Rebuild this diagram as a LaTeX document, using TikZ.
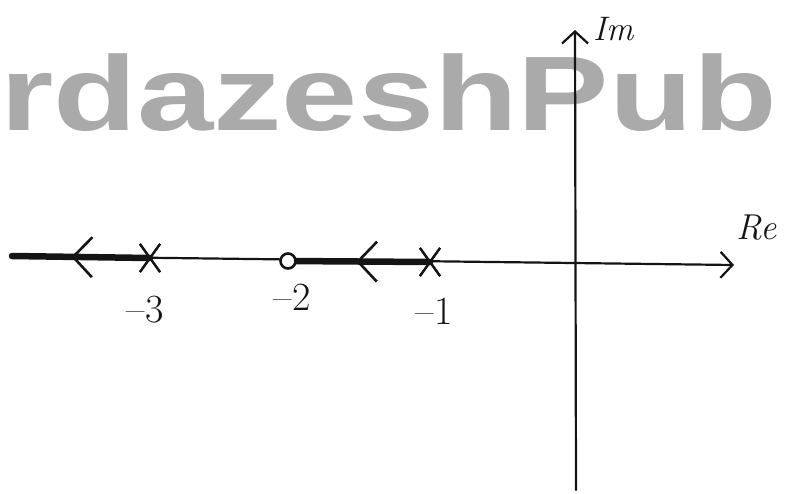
\documentclass[tikz,border=0pt]{standalone}
\usepackage{fontspec}
\usepackage{graphicx}
\usetikzlibrary{arrows.meta,shapes.misc,decorations.markings}
\newfontfamily\wmfont{Liberation Sans}
\definecolor{RLink}{RGB}{20,20,20}
\definecolor{RLwater}{RGB}{170,170,170}
\tikzset{
  axis/.style={line width=2.2pt,draw=RLink,line cap=round,
               -{Straight Barb[length=12pt,width=26pt,line width=2.2pt]}},
  locus/.style={line width=6.5pt,draw=RLink,line cap=round,postaction={decorate},
                decoration={markings,mark=at position #1 with
                  {\arrow[line width=2.6pt]{Straight Barb[length=19pt,width=40pt]}}}},
  pole/.style={cross out,draw=RLink,line width=2.2pt,minimum width=18pt,
               minimum height=26pt,inner sep=0pt},
  zero/.style={circle,draw=RLink,line width=2.6pt,minimum size=15pt,inner sep=0pt,fill=white},
  lbl/.style={font=\fontsize{40}{40}\selectfont,text=RLink},
  axlbl/.style={font=\fontsize{34}{34}\selectfont\itshape,text=RLink,inner sep=0pt},
  water/.style={font=\wmfont\bfseries\fontsize{100}{100}\selectfont,text=RLwater,
                inner sep=0pt,anchor=base west}
}
\begin{document}
\begin{tikzpicture}[x=1pt,y=-1pt]
  \useasboundingbox (0,0) rectangle (786,493);
  \clip (0,0) rectangle (786,493);
  % watermark
  \node[water] (wm) at (0,130) {\scalebox{1.37}[1.06]{rdazeshPub}};
  % axes
  \coordinate (reL) at (10,256);
  \coordinate (reR) at (734,265);
  \coordinate (imB) at (576,490);
  \coordinate (imT) at (575,30);
  \draw[axis] (reL) -- (reR);
  \draw[axis] (imB) -- (imT);
  \node[axlbl,anchor=south west] (im) at (593,41) {Im};
  \node[axlbl,anchor=south west,font=\fontsize{36}{36}\selectfont\itshape] (re) at (736,240) {Re};
  % poles and zero
  \node[pole] (p3) at (150,258) {};
  \node[pole] (p1) at (430,262) {};
  \coordinate (farL) at (12,256);
  \draw[locus=0.57] (p3.center) -- (farL);
  \draw[locus=0.52] (p1.center) -- (288,261);
  \node[zero] (z2) at (288,261) {};
  \node[pole] at (p3) {};
  \node[pole] at (p1) {};
  \node[lbl] (l3) at (145,310) {--3};
  \node[lbl] (l2) at (292,297) {--2};
  \node[lbl] (l1) at (434,311) {--1};
\end{tikzpicture}
\end{document}
